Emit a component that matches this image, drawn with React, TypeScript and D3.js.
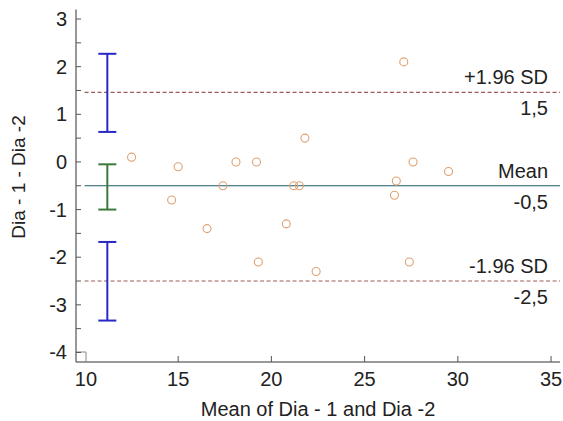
import React, { useEffect, useRef } from 'react';
import * as d3 from 'd3';

const width = 563,
      height = 421;

// scatter points: mean of the two measurements, difference
const meanVals = [12.5, 15.0, 14.65, 16.55, 17.4, 18.1, 19.2, 19.3, 20.8, 21.2, 21.5, 21.8, 22.4, 27.1, 27.6, 29.5, 26.7, 26.6, 27.4];
const diffVals = [0.1, -0.1, -0.8, -1.4, -0.5, 0.0, 0.0, -2.1, -1.3, -0.5, -0.5, 0.5, -2.3, 2.1, 0.0, -0.2, -0.4, -0.7, -2.1];

// reference lines
const refNames = ['+1.96 SD', 'Mean', '-1.96 SD'];
const refValues = [1.46, -0.5, -2.5];
const refLabels = ['1,5', '-0,5', '-2,5'];

// confidence intervals drawn at the left
const ciLow = [0.63, -1.0, -3.33];
const ciHigh = [2.27, -0.05, -1.68];
const ciX = 11.2;

const xTicks = [10, 15, 20, 25, 30, 35];
const yTicks = [3, 2, 1, 0, -1, -2, -3, -4];

const font = 'Arial, "Liberation Sans", sans-serif';

const App = () => {
    const ref = useRef<SVGSVGElement>(null);

    useEffect(() => {
        const svg = d3.select(ref.current);
        svg.html('');

        const left = 76, right = 560, top = 9.5, bottom = 362;
        const x = d3.scaleLinear().domain([9.52, 35.48]).range([left, right]);
        const y = d3.scaleLinear().domain([-4.2, 3.2]).range([bottom, top]);

        svg.append('rect').attr('width', width).attr('height', height).attr('fill', '#fff');

        // axes
        svg.append('line').attr('x1', left).attr('x2', left).attr('y1', top).attr('y2', bottom)
            .attr('stroke', '#333').attr('stroke-width', 1);
        svg.append('line').attr('x1', left).attr('x2', right).attr('y1', bottom).attr('y2', bottom)
            .attr('stroke', '#333').attr('stroke-width', 1);

        // small box at origin
        svg.append('path')
            .attr('d', `M${left},${bottom - 10}H${left + 10}V${bottom}`)
            .attr('fill', 'none').attr('stroke', '#888');

        const yMinor = d3.range(-4, 3.01, 0.5);
        svg.selectAll('.ytick').data(yMinor).enter().append('line')
            .attr('x1', left).attr('x2', left + 5)
            .attr('y1', d => y(d)).attr('y2', d => y(d))
            .attr('stroke', '#555');

        svg.selectAll('.ylab').data(yTicks).enter().append('text')
            .attr('x', 67).attr('y', d => y(d) + 7)
            .attr('text-anchor', 'end')
            .attr('font-family', font).attr('font-size', 20).attr('fill', '#222')
            .text(d => d);

        svg.selectAll('.xtick').data(xTicks.slice(1)).enter().append('line')
            .attr('x1', d => x(d)).attr('x2', d => x(d))
            .attr('y1', bottom).attr('y2', bottom - 6)
            .attr('stroke', '#555');

        svg.selectAll('.xlab').data(xTicks).enter().append('text')
            .attr('x', d => x(d) + (d === 10 ? 1 : 0)).attr('y', 386)
            .attr('text-anchor', 'middle')
            .attr('font-family', font).attr('font-size', 20).attr('fill', '#222')
            .text(d => d);

        svg.append('text')
            .attr('x', 318).attr('y', 416)
            .attr('text-anchor', 'middle')
            .attr('font-family', font).attr('font-size', 20).attr('fill', '#222')
            .text('Mean of Dia - 1 and Dia -2');

        svg.append('text')
            .attr('transform', `translate(25,177) rotate(-90)`)
            .attr('text-anchor', 'middle')
            .attr('font-family', font).attr('font-size', 19).attr('fill', '#222')
            .text('Dia - 1 - Dia -2');

        // reference lines
        refValues.forEach((v, i) => {
            const isMean = i === 1;
            svg.append('line')
                .attr('x1', x(9.98)).attr('x2', right)
                .attr('y1', y(v)).attr('y2', y(v))
                .attr('stroke', isMean ? '#1f5a6a' : '#a05a5a')
                .attr('stroke-width', 1.2)
                .attr('stroke-dasharray', isMean ? null : '4,2.5');
            svg.append('text')
                .attr('x', 548).attr('y', y(v) - 8)
                .attr('text-anchor', 'end')
                .attr('font-family', font).attr('font-size', 20).attr('fill', '#222')
                .text(refNames[i]);
            svg.append('text')
                .attr('x', 548).attr('y', y(v) + 23)
                .attr('text-anchor', 'end')
                .attr('font-family', font).attr('font-size', 20).attr('fill', '#222')
                .text(refLabels[i]);
        });

        // confidence interval bars
        ciLow.forEach((lo, i) => {
            const col = i === 1 ? '#3a7a3a' : '#2828c8';
            const cx = x(ciX);
            const g = svg.append('g').attr('stroke', col).attr('stroke-width', 2);
            g.append('line').attr('x1', cx).attr('x2', cx).attr('y1', y(lo)).attr('y2', y(ciHigh[i]));
            g.append('line').attr('x1', cx - 9).attr('x2', cx + 9).attr('y1', y(lo)).attr('y2', y(lo));
            g.append('line').attr('x1', cx - 9).attr('x2', cx + 9).attr('y1', y(ciHigh[i])).attr('y2', y(ciHigh[i]));
        });

        // points
        svg.selectAll('.pt').data(meanVals).enter().append('circle')
            .attr('cx', d => x(d))
            .attr('cy', (d, i) => y(diffVals[i]))
            .attr('r', 4)
            .attr('fill', 'none')
            .attr('stroke', '#e0a070')
            .attr('stroke-width', 1.1);
    }, []);

    return (
        <svg ref={ref} width={width} height={height}
            style={{ position: 'absolute', left: 0, top: 0 }} />
    );
};

export default App;
